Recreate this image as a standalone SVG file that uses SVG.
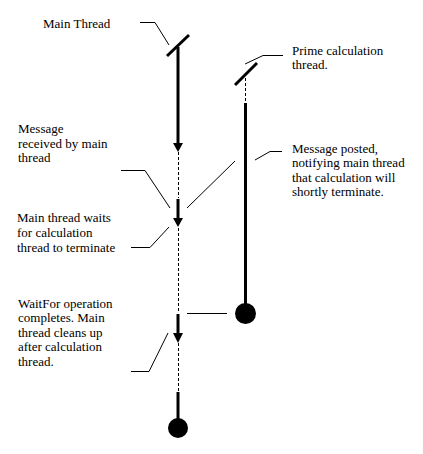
<svg xmlns="http://www.w3.org/2000/svg" width="423" height="454" viewBox="0 0 423 454">
<style>
.t{font-family:'Liberation Serif','Times New Roman','DejaVu Serif',serif;font-size:13px;fill:#000}
.thick{stroke:#000;stroke-width:3;fill:none}
.dash{stroke:#000;stroke-width:1;stroke-dasharray:3,2;fill:none}
.lead{stroke:#000;stroke-width:1;fill:none}
.head{fill:#000}
</style>
<rect width="423" height="454" fill="#fff"/>
<g id="connectors">
<polyline class="lead" points="140,22.5 155,22.5 169,45"/>
<polyline class="lead" points="283,55.5 263,55.5 245,64"/>
<polyline class="lead" points="121,170.5 145,170.5 170,208"/>
<line class="lead" x1="235" y1="161" x2="187" y2="208"/>
<polyline class="lead" points="282,151.5 270,151.5 255,160"/>
<polyline class="lead" points="131,247.5 150,247.5 169,227"/>
<line class="lead" x1="187" y1="313.5" x2="227" y2="313.5"/>
<polyline class="lead" points="131,371.5 149,371.5 168,333"/>
</g>
<g id="main-thread">
<line class="thick" x1="167" y1="56" x2="189" y2="35"/>
<line class="thick" x1="178" y1="47" x2="178" y2="144"/>
<polygon class="head" points="173,143 183,143 178,152"/>
<line class="dash" x1="178.5" y1="152" x2="178.5" y2="198"/>
<line class="thick" x1="178" y1="199" x2="178" y2="219"/>
<polygon class="head" points="173,218 183,218 178,227"/>
<line class="dash" x1="178.5" y1="228" x2="178.5" y2="313"/>
<line class="thick" x1="178" y1="314" x2="178" y2="334"/>
<polygon class="head" points="173,333 183,333 178,343"/>
<line class="dash" x1="178.5" y1="343" x2="178.5" y2="392"/>
<line class="thick" x1="178" y1="392" x2="178" y2="420"/>
<circle cx="178" cy="428" r="10" fill="#000"/>
</g>
<g id="prime-thread">
<line class="thick" x1="235" y1="85" x2="257" y2="63"/>
<line class="dash" x1="245.5" y1="73" x2="245.5" y2="102"/>
<line class="thick" x1="245.5" y1="103" x2="245.5" y2="306"/>
<circle cx="245.5" cy="313.5" r="10.5" fill="#000"/>
</g>
<g font-family="Liberation Serif, serif" font-size="13">
<g id="label-main">
<text class="t" x="43" y="28">Main Thread</text>
</g>
<g id="label-prime">
<text class="t" x="292" y="55">Prime calculation</text>
<text class="t" x="292" y="69">thread.</text>
</g>
<g id="label-received">
<text class="t" x="18" y="133">Message</text>
<text class="t" x="18" y="148">received by main</text>
<text class="t" x="18" y="162">thread</text>
</g>
<g id="label-posted">
<text class="t" x="292" y="153">Message posted,</text>
<text class="t" x="292" y="167">notifying main thread</text>
<text class="t" x="292" y="182">that calculation will</text>
<text class="t" x="292" y="196">shortly terminate.</text>
</g>
<g id="label-waits">
<text class="t" x="17" y="222">Main thread waits</text>
<text class="t" x="17" y="237">for calculation</text>
<text class="t" x="17" y="252">thread to terminate</text>
</g>
<g id="label-completes">
<text class="t" x="18" y="308">WaitFor operation</text>
<text class="t" x="18" y="322">completes. Main</text>
<text class="t" x="18" y="337">thread cleans up</text>
<text class="t" x="18" y="351">after calculation</text>
<text class="t" x="18" y="366">thread.</text>
</g>
</g>
</svg>
